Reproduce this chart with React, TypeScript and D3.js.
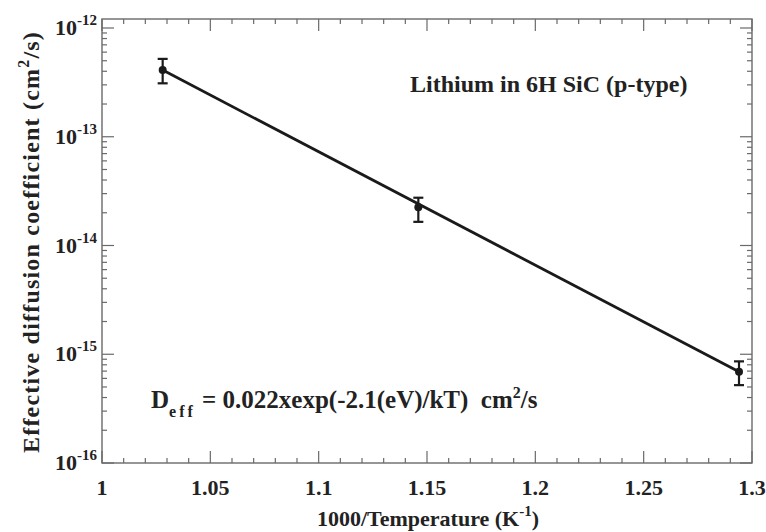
import React from "react";
import * as d3 from "d3";

const tempX = [1.028, 1.146, 1.294];
const diffY = [4.1e-13, 2.25e-14, 6.9e-16];
const errLow = [3.1e-13, 1.65e-14, 5.2e-16];
const errHigh = [5.2e-13, 2.75e-14, 8.6e-16];
const fitX = [1.028, 1.294];
const fitY = [4.1e-13, 6.9e-16];
const xTicks = [1, 1.05, 1.1, 1.15, 1.2, 1.25, 1.3];
const xTickLabels = ["1", "1.05", "1.1", "1.15", "1.2", "1.25", "1.3"];
const yDecades = [-16, -15, -14, -13, -12];

const W = 766;
const H = 532;
const L = 102;
const R = 752;
const T = 19;
const B = 463;
const FONT = "'Liberation Serif', 'Times New Roman', serif";
const FRAME = "#6a6a6a";

export default function App() {
  const x = d3.scaleLinear().domain([1, 1.3]).range([L, R]);
  const y = d3.scaleLog().domain([1e-16, 1e-12]).range([B, 28]);

  const xMinor = d3.range(0, 31).map((i) => 1 + i * 0.01);
  const yMinor: number[] = [];
  for (let e = -16; e < -12; e++) {
    for (let m = 2; m <= 9; m++) yMinor.push(m * Math.pow(10, e));
  }

  const line = d3
    .line<number>()
    .x((d, i) => x(fitX[i]))
    .y((d) => y(d));

  return (
    <svg
      width={W}
      height={H}
      style={{ position: "absolute", left: 0, top: 0, background: "#fff" }}
      fontFamily={FONT}
    >
      <rect x={L} y={T} width={R - L} height={B - T} fill="none" stroke={FRAME} strokeWidth={1.4} />
      {xMinor.map((v, i) => {
        const major = i % 5 === 0;
        const len = major ? 12 : 5;
        return (
          <g key={"xm" + i} stroke={FRAME} strokeWidth={1.2}>
            <line x1={x(v)} x2={x(v)} y1={B} y2={B - len} />
            <line x1={x(v)} x2={x(v)} y1={T} y2={T + len} />
          </g>
        );
      })}
      {yMinor.map((v, i) => (
        <g key={"ym" + i} stroke={FRAME} strokeWidth={1.2}>
          <line x1={L} x2={L + 5} y1={y(v)} y2={y(v)} />
          <line x1={R} x2={R - 5} y1={y(v)} y2={y(v)} />
        </g>
      ))}
      {yDecades.map((e) => (
        <g key={"yM" + e} stroke={FRAME} strokeWidth={1.2}>
          <line x1={L} x2={L + 12} y1={y(Math.pow(10, e))} y2={y(Math.pow(10, e))} />
          <line x1={R} x2={R - 12} y1={y(Math.pow(10, e))} y2={y(Math.pow(10, e))} />
        </g>
      ))}
      {xTicks.map((v, i) => (
        <text
          key={"xl" + i}
          x={x(v)}
          y={495}
          textAnchor="middle"
          fontSize={22}
          fontWeight="bold"
          fill="#222"
        >
          {xTickLabels[i]}
        </text>
      ))}
      {yDecades.map((e) => (
        <text
          key={"yl" + e}
          x={97}
          y={y(Math.pow(10, e)) + 7}
          textAnchor="end"
          fontSize={22}
          fontWeight="bold"
          fill="#222"
        >
          10
          <tspan fontSize={15} dy={-10}>
            {String(e)}
          </tspan>
        </text>
      ))}
      <path d={line(fitY) || ""} fill="none" stroke="#1a1a1a" strokeWidth={2.8} />
      {tempX.map((v, i) => (
        <g key={"eb" + i} stroke="#1a1a1a" strokeWidth={2.2}>
          <line x1={x(v)} x2={x(v)} y1={y(errLow[i])} y2={y(errHigh[i])} />
          <line x1={x(v) - 5} x2={x(v) + 5} y1={y(errLow[i])} y2={y(errLow[i])} />
          <line x1={x(v) - 5} x2={x(v) + 5} y1={y(errHigh[i])} y2={y(errHigh[i])} />
        </g>
      ))}
      {tempX.map((v, i) => (
        <circle key={"pt" + i} cx={x(v)} cy={y(diffY[i])} r={4} fill="#1a1a1a" />
      ))}
      <text x={410} y={92} fontSize={24} fontWeight="bold" fill="#222">
        Lithium in 6H SiC (p-type)
      </text>
      <text x={151} y={408} fontSize={25} fontWeight="bold" fill="#222" xmlSpace="preserve">
        D
        <tspan fontSize={16} dy={9} letterSpacing={3}>
          eff
        </tspan>
        <tspan dy={-9}>{" = 0.022xexp(-2.1(eV)/kT)  cm"}</tspan>
        <tspan fontSize={16} dy={-10}>
          2
        </tspan>
        <tspan dy={10}>/s</tspan>
      </text>
      <text
        x={428}
        y={526}
        textAnchor="middle"
        fontSize={22}
        fontWeight="bold"
        fill="#222"
      >
        1000/Temperature (K
        <tspan fontSize={15} dy={-10}>
          -1
        </tspan>
        <tspan dy={10}>)</tspan>
      </text>
      <text
        transform="translate(39,242) rotate(-90)"
        textAnchor="middle"
        fontSize={24}
        fontWeight="bold"
        letterSpacing={1.2}
        fill="#222"
      >
        Effective diffusion coefficient (cm
        <tspan fontSize={16} dy={-10}>
          2
        </tspan>
        <tspan dy={10}>/s)</tspan>
      </text>
    </svg>
  );
}
